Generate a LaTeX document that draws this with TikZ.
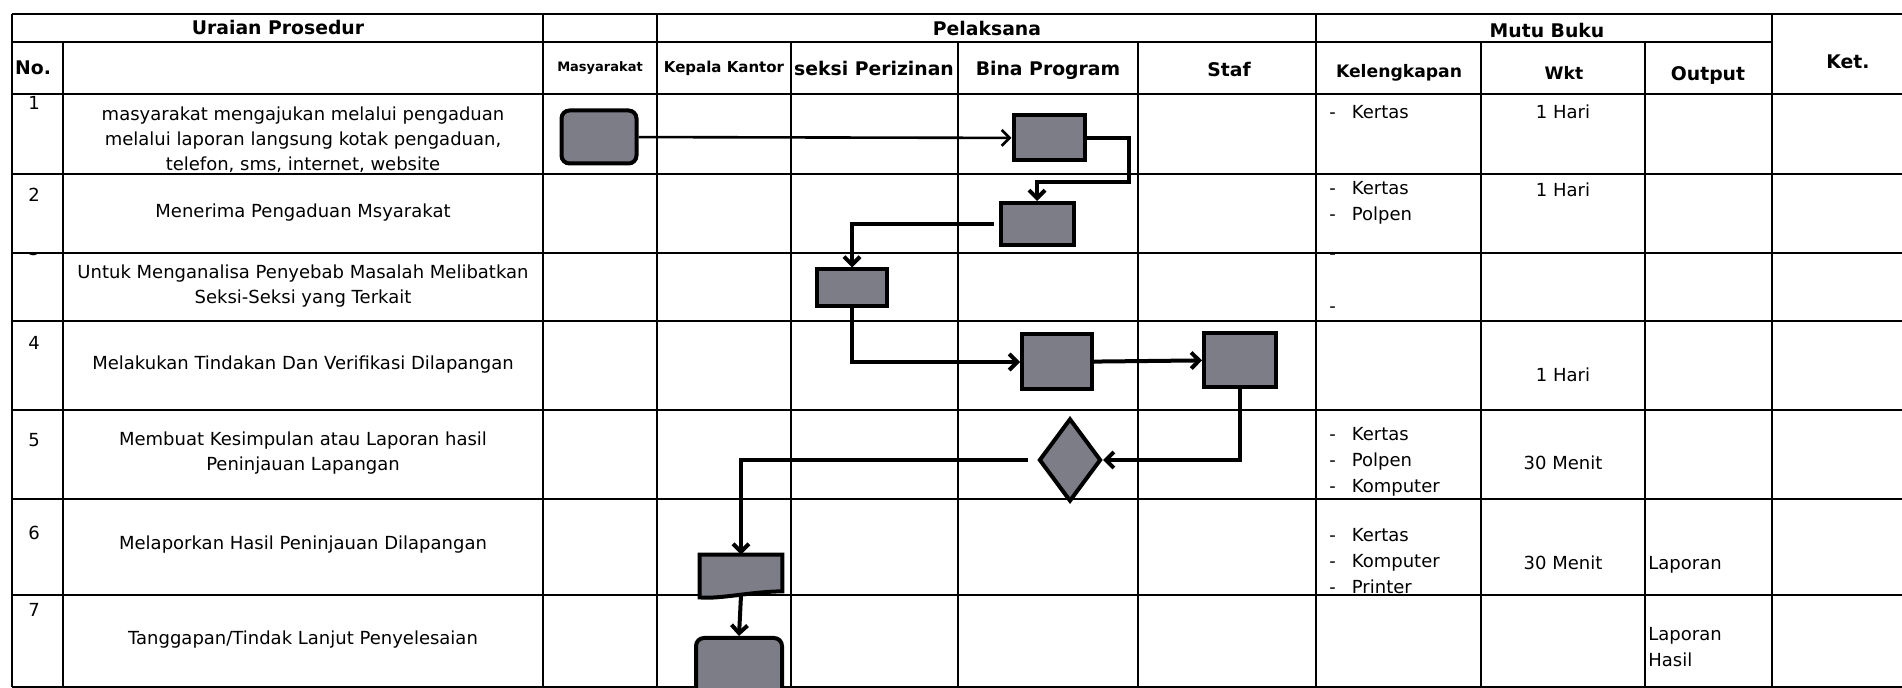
\documentclass[tikz,border=0pt]{standalone}
\usepackage{fontspec}
\setmainfont{DejaVu Sans}
\usetikzlibrary{arrows,arrows.meta,shapes.geometric}
\definecolor{abu}{RGB}{125,125,136}
\newcommand{\butir}[1]{\makebox[1.25em][l]{-}#1}
\tikzstyle{garis} = [line width=1.1pt]
\tikzstyle{proses} = [draw=black,fill=abu,rectangle,line width=2pt,inner sep=0pt]
\tikzstyle{mulai} = [proses,rounded corners=4pt]
\tikzstyle{keputusan} = [proses,diamond]
\tikzstyle{dokumen} = [rectangle,inner sep=0pt,minimum width=41pt,minimum height=20pt]
\tikzstyle{judul} = [font=\bfseries\fontsize{9.4}{11}\selectfont,inner sep=0pt]
\tikzstyle{teks} = [align=center,font=\fontsize{9}{12.5}\selectfont,inner sep=0pt]
\tikzstyle{daftar} = [align=left,anchor=west,font=\fontsize{9}{13}\selectfont,inner sep=0pt]
\tikzstyle{panah} = [->,line width=2pt]

\begin{document}
\begin{tikzpicture}[x=0.5pt,y=-0.5pt,>={Straight Barb[length=4pt,width=8pt]}]
\useasboundingbox (0,0) rectangle (1902,688);

\draw [garis] (12,14) -- (1902,14);
\draw [garis] (12,42) -- (1772,42);
\foreach \y in {94,174,253,321,410,499,595,687}
  \draw [garis] (12,\y) -- (1902,\y);
\foreach \x in {12,543,657,1316,1772}
  \draw [garis] (\x,14) -- (\x,687);
\foreach \x in {63,791,958,1138,1481,1645}
  \draw [garis] (\x,42) -- (\x,687);

\node (uraian) [judul] at (278,28) {Uraian Prosedur};
\node (pelaksana) [judul] at (987,29) {Pelaksana};
\node (mutu) [judul] at (1547,31) {Mutu Buku};
\node (no) [judul] at (33,68) {No.};
\node (mas) [judul,font=\bfseries\fontsize{6.5}{8}\selectfont] at (600,68) {Masyarakat};
\node (kepala) [judul,font=\bfseries\fontsize{7.5}{9}\selectfont] at (724,68) {Kepala Kantor};
\node (seksi) [judul] at (874,69) {seksi Perizinan};
\node (bina) [judul] at (1048,70) {Bina Program};
\node (staf) [judul] at (1229,70) {Staf};
\node (lengkap) [judul,font=\bfseries\fontsize{8.6}{10}\selectfont] at (1399,73) {Kelengkapan};
\node (wkt) [judul,font=\bfseries\fontsize{8.6}{10}\selectfont] at (1564,73) {Wkt};
\node (output) [judul] at (1708,75) {Output};
\node (ket) [judul] at (1848,62) {Ket.};

\node (n1) [teks] at (34,103) {1};
\node (n2) [teks] at (34,195) {2};
\begin{scope}
\clip (12,254) rectangle (63,321);
\node (n3) [teks] at (34,249) {3};
\end{scope}
\node (n4) [teks] at (34,343) {4};
\node (n5) [teks] at (34,440) {5};
\node (n6) [teks] at (34,533) {6};
\node (n7) [teks] at (34,610) {7};

\node (u1) [teks] at (303,140) {masyarakat mengajukan melalui pengaduan\\melalui laporan langsung kotak pengaduan,\\telefon, sms, internet, website};
\node (u2) [teks] at (303,213) {Menerima Pengaduan Msyarakat};
\node (u3) [teks] at (303,286) {Untuk Menganalisa Penyebab Masalah Melibatkan\\Seksi-Seksi yang Terkait};
\node (u4) [teks] at (303,365) {Melakukan Tindakan Dan Verifikasi Dilapangan};
\node (u5) [teks] at (303,453) {Membuat Kesimpulan atau Laporan hasil\\Peninjauan Lapangan};
\node (u6) [teks] at (303,545) {Melaporkan Hasil Peninjauan Dilapangan};
\node (u7) [teks] at (303,640) {Tanggapan/Tindak Lanjut Penyelesaian};

\node (k1) [daftar] at (1329,112) {\butir{Kertas}};
\node (k2) [daftar] at (1329,203) {\butir{Kertas}\\\butir{Polpen}};
\node (k3a) [daftar] at (1329,257) {-};
\node (k3b) [daftar] at (1329,310) {-};
\node (k5) [daftar] at (1329,462) {\butir{Kertas}\\\butir{Polpen}\\\butir{Komputer}};
\node (k6) [daftar] at (1329,561) {\butir{Kertas}\\\butir{Komputer}\\\butir{Printer}};

\node (w1) [teks] at (1563,112) {1 Hari};
\node (w2) [teks] at (1563,190) {1 Hari};
\node (w4) [teks] at (1563,375) {1 Hari};
\node (w5) [teks] at (1563,463) {30 Menit};
\node (w6) [teks] at (1563,563) {30 Menit};
\node (o6) [daftar] at (1648,565) {Laporan};
\node (o7) [daftar] at (1648,647) {Laporan\\Hasil};

\node (mas1) [mulai,minimum width=37.5pt,minimum height=26.5pt] at (599,137) {};
\node (bp1) [proses,minimum width=35.5pt,minimum height=22.5pt] at (1049,138) {};
\node (bp2) [proses,minimum width=36.5pt,minimum height=21pt] at (1037,224) {};
\node (sp3) [proses,minimum width=35pt,minimum height=18.5pt] at (852,288) {};
\node (bp4) [proses,minimum width=35pt,minimum height=27.5pt] at (1057,362) {};
\node (st4) [proses,minimum width=36pt,minimum height=27pt] at (1240,360) {};
\node (dec5) [keputusan,minimum width=31pt,minimum height=41.5pt] at (1070,460) {};
\node (kk6) [dokumen] at (741,575) {};
\draw [proses] (kk6.north west) -- (kk6.north east) -- ([yshift=2pt]kk6.south east)
  .. controls +(-30,0) and +(20,2) .. ([yshift=-1pt]kk6.south west) -- cycle;
\node (kk7) [mulai,minimum width=43pt,minimum height=31pt] at (739,669) {};

\draw [->,line width=1.3pt] (mas1) -- (bp1);
\draw [panah] (bp1.east) -- ++(42,0) -- ++(0,44) -| (bp2.north);
\draw [panah,shorten <=2.5pt] (bp2.west) -| (sp3.north);
\draw [panah] (sp3.south) |- (bp4.west);
\draw [panah] (bp4) -- (st4);
\draw [panah] (st4.south) |- (dec5.east);
\draw [panah,shorten <=4.5pt] (dec5.west) -| (kk6.north);
\draw [panah] (kk6.south) -- (kk7.north);
\end{tikzpicture}
\end{document}
